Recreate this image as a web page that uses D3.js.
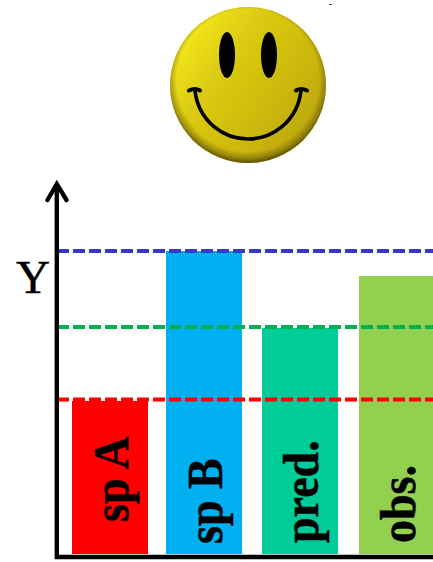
<!DOCTYPE html>
<html>
<head>
<meta charset="utf-8">
<style>html,body{margin:0;padding:0;background:#fff;overflow:hidden}svg{display:block}</style>
<script src="https://cdn.jsdelivr.net/npm/d3@7"></script>
</head>
<body>
<script>
const categories = ["sp A", "sp B", "pred.", "obs."];
const barValues = [153, 303, 226, 278];
const barColors = ["#ff0000", "#00b0f0", "#00cc99", "#92d050"];
const refValues = [303, 227, 154.5];
const refColors = ["#3838c8", "#00b050", "#ff0000"];

const W = 433, H = 562;
const svg = d3.select("body").append("svg").attr("width", W).attr("height", H);
const defs = svg.append("defs");

// scales
const y = d3.scaleLinear().domain([0, 372]).range([554, 182]);
const x = d3.scaleOrdinal().domain(categories).range([72, 166, 262, 359]);
const barW = 76;
const labelGap = d3.scaleOrdinal().domain(categories).range([32, 10, 11, 11]);

// smiley
const base = defs.append("linearGradient").attr("id", "base")
  .attr("x1", 0.05).attr("y1", 0.2).attr("x2", 0.95).attr("y2", 0.85);
[[0, "#f4ea1c"], [0.3, "#dccb12"], [0.65, "#cdb90e"], [1, "#b8a40c"]]
  .forEach(s => base.append("stop").attr("offset", s[0]).attr("stop-color", s[1]));
const rim = defs.append("radialGradient").attr("id", "rim")
  .attr("cx", 0.5).attr("cy", 0.47).attr("r", 0.53);
[[0, "#3a3000", 0], [0.86, "#3a3000", 0], [0.94, "#3a3000", 0.35], [1, "#3a3000", 0.75]]
  .forEach(s => rim.append("stop").attr("offset", s[0]).attr("stop-color", s[1]).attr("stop-opacity", s[2]));
defs.append("filter").attr("id", "soft").append("feGaussianBlur").attr("stdDeviation", 0.6);

const s = svg.append("g").attr("filter", "url(#soft)");
s.append("circle").attr("cx", 248).attr("cy", 85).attr("r", 78).attr("fill", "url(#base)");
s.append("circle").attr("cx", 248).attr("cy", 85).attr("r", 78).attr("fill", "url(#rim)");
s.append("ellipse").attr("cx", 227).attr("cy", 55).attr("rx", 8).attr("ry", 23).attr("fill", "#000");
s.append("ellipse").attr("cx", 269).attr("cy", 55).attr("rx", 8).attr("ry", 23).attr("fill", "#000");
s.append("path").attr("d", "M195,91 C199,122 224,139 248,139 C272,139 297,122 301,91")
  .attr("fill", "none").attr("stroke", "#000").attr("stroke-width", 3.6);
s.append("path").attr("d", "M189,90.5 Q195,87.5 200,90.5 M296,90.5 Q301,87.5 307,90.5")
  .attr("fill", "none").attr("stroke", "#000").attr("stroke-width", 4).attr("stroke-linecap", "round");
svg.append("rect").attr("x", 329).attr("y", 4).attr("width", 3).attr("height", 1).attr("fill", "#555");

// bars
svg.selectAll("rect.bar").data(categories).join("rect").attr("class", "bar")
  .attr("x", d => x(d)).attr("width", barW)
  .attr("y", (d, i) => y(barValues[i]))
  .attr("height", (d, i) => y(0) - y(barValues[i]))
  .attr("fill", (d, i) => barColors[i]);

// reference lines
svg.selectAll("line.ref").data(refValues).join("line").attr("class", "ref")
  .attr("x1", 57).attr("x2", W)
  .attr("y1", d => y(d)).attr("y2", d => y(d))
  .attr("stroke", (d, i) => refColors[i])
  .attr("stroke-width", 3.8)
  .attr("stroke-dasharray", "12 4");

// bar labels
svg.selectAll("text.lab").data(categories).join("text").attr("class", "lab")
  .attr("transform", d => `translate(${x(d) + 56},${y(0) - labelGap(d)}) rotate(-90) scale(0.92,1)`)
  .attr("font-family", "'Liberation Serif'")
  .attr("font-weight", "bold")
  .attr("font-size", 50)
  .attr("fill", "#000")
  .attr("stroke", "#000")
  .attr("stroke-width", 0.5)
  .text(d => d);

// axes
const axisG = svg.append("g").attr("fill", "none").attr("stroke", "#000");
axisG.append("path")
  .attr("d", d3.line()([[56.8, y(372) + 2], [56.8, y(0) + 3], [W, y(0) + 3]]))
  .attr("stroke-width", 4.4);
axisG.append("path")
  .attr("d", d3.line()([[47.5, 200], [56.8, 184], [66.5, 200]]))
  .attr("stroke-width", 4.4).attr("stroke-linecap", "round").attr("stroke-linejoin", "miter");

svg.append("text").attr("x", 33).attr("y", 293).attr("text-anchor", "middle")
  .attr("font-family", "'Liberation Serif'").attr("font-size", 47).attr("fill", "#000")
  .attr("stroke", "#000").attr("stroke-width", 0.5).text("Y");
</script>
</body>
</html>
